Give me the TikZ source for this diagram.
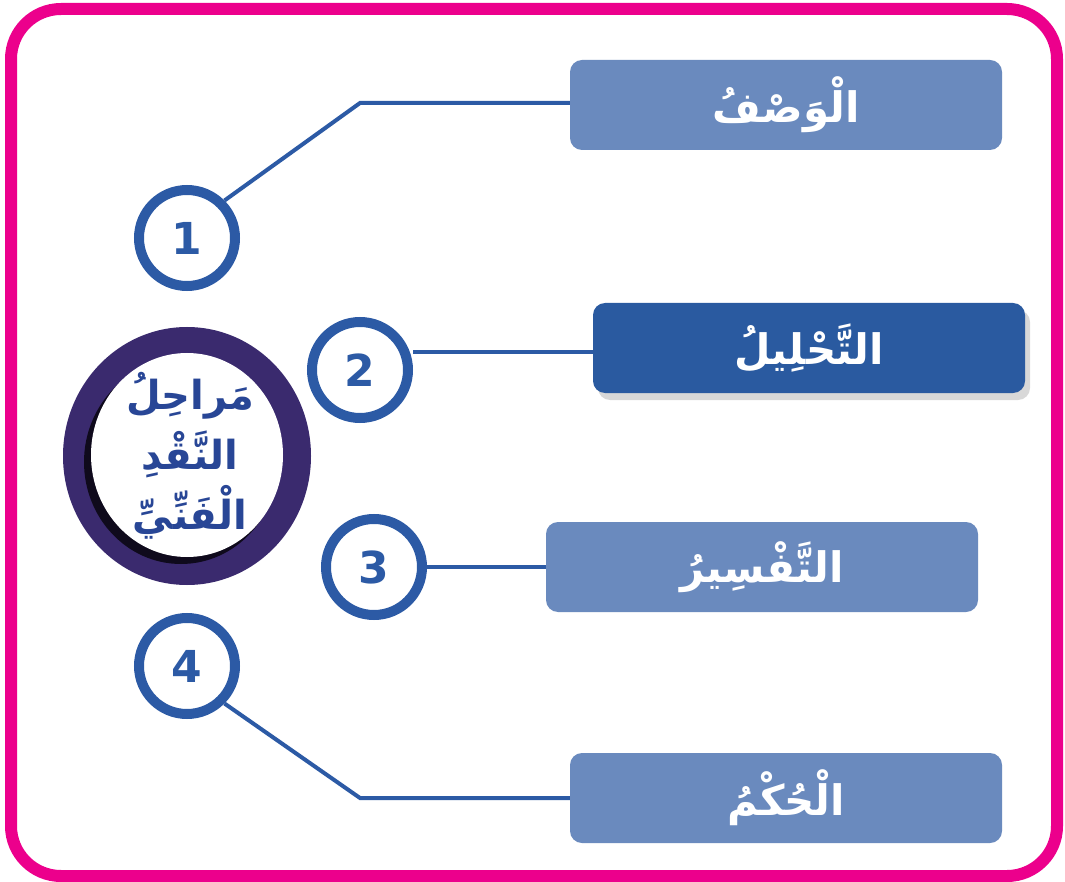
\documentclass[tikz,border=0pt]{standalone}
\usepackage{fontspec}
\TeXXeTstate=1
\newfontfamily\arabicfont[Script=Arabic]{DejaVu Sans}
\newfontfamily\numfont{DejaVu Sans}
\usetikzlibrary{shadows}
\definecolor{pinkframe}{RGB}{236,0,140}
\definecolor{lightbox}{RGB}{106,138,190}
\definecolor{darkbox}{RGB}{42,90,160}
\definecolor{ringblue}{RGB}{44,90,165}
\definecolor{purplering}{RGB}{58,42,110}
\definecolor{titleblue}{RGB}{40,70,150}
\begin{document}
\begin{tikzpicture}[x=1pt,y=-1pt,
  stagebox/.style={rounded corners=12pt, minimum width=432pt, minimum height=90pt, inner sep=0pt,
     font=\arabicfont\bfseries\fontsize{42}{48}\selectfont, text=white},
  numcircle/.style={circle, draw=ringblue, line width=10pt, fill=white, minimum size=96pt, inner sep=0pt,
     font=\numfont\bfseries\fontsize{44}{48}\selectfont, text=ringblue},
  link/.style={draw=ringblue, line width=4pt}
]
\useasboundingbox (0,0) rectangle (1065,882);
\fill[white] (0,0) rectangle (1065,882);
\draw[pinkframe, line width=12pt, rounded corners=50pt] (11,9) rectangle (1057,876);

% boxes
\node[stagebox, fill=lightbox] (b1) at (786,105) {\beginR الْوَصْفُ\endR};
\node[stagebox, fill=darkbox, drop shadow={shadow xshift=5pt, shadow yshift=-7pt, fill=black!25, opacity=0.6}] (b2) at (809,348) {\beginR التَّحْلِيلُ\endR};
\node[stagebox, fill=lightbox] (b3) at (762,567) {\beginR التَّفْسِيرُ\endR};
\node[stagebox, fill=lightbox] (b4) at (786,798) {\beginR الْحُكْمُ\endR};

% central circle
\fill[purplering] (187,456) ellipse [x radius=124pt, y radius=129pt];
\fill[black!75!purplering] (181,462) ellipse [x radius=97pt, y radius=102pt];
\fill[white] (187,455) ellipse [x radius=96pt, y radius=102pt];
\node[font=\arabicfont\bfseries\fontsize{40}{60}\selectfont, text=titleblue, align=center] (title) at (190,456)
  {\beginR مَراحِلُ\endR\\\beginR النَّقْدِ\endR\\\beginR الْفَنِّيِّ\endR};

% numbered circles
\node[numcircle] (n1) at (187,238) {1};
\node[numcircle] (n2) at (360,370) {2};
\node[numcircle] (n3) at (374,567) {3};
\node[numcircle] (n4) at (187,666) {4};

\coordinate (k1) at (360,103);
\coordinate (k4) at (360,798);
\draw[link] (n1.north east) -- (k1) -- (b1.west |- k1);
\draw[link] (n2.east |- 0,352) -- (b2.west |- 0,352);
\draw[link] (n3.east) -- (b3.west);
\draw[link] (n4.south east) -- (k4) -- (b4.west |- k4);
\end{tikzpicture}
\end{document}
